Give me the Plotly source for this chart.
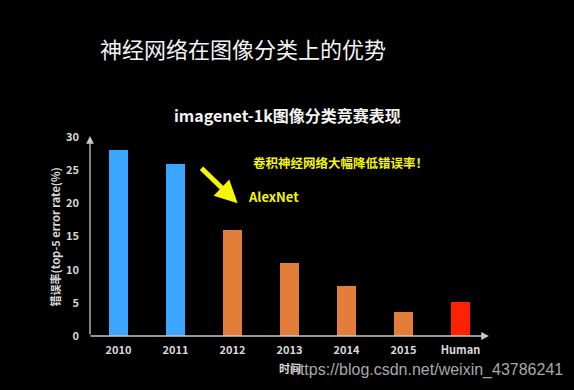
import plotly.graph_objects as go

categories = ["2010", "2011", "2012", "2013", "2014", "2015", "Human"]
error_rates = [28, 26, 16, 11, 7.5, 3.6, 5.1]
bar_colors = ["#3AA6FF", "#3AA6FF", "#E27D3A", "#E27D3A", "#E27D3A", "#E27D3A", "#FF2200"]
y_ticks = [0, 5, 10, 15, 20, 25, 30]

CJK = "Noto Sans CJK SC"
tick_font = dict(family=CJK, size=11, color="#D8D8D8", weight="bold")

fig = go.Figure()
fig.add_trace(go.Bar(
    x=list(range(len(categories))), y=error_rates,
    marker=dict(color=bar_colors, line=dict(width=0)),
    width=0.32,
))

axis_col = "#C8C8C8"
fig.update_layout(
    width=574, height=390,
    paper_bgcolor="black", plot_bgcolor="black",
    margin=dict(l=90, r=85, t=137, b=54),
    showlegend=False,
    bargap=0,
    xaxis=dict(
        tickmode="array", tickvals=list(range(len(categories))), ticktext=categories,
        range=[-0.5, 6.5], showgrid=False, zeroline=False, showline=False,
        tickfont=tick_font, ticks="", ticklabelstandoff=6,
    ),
    yaxis=dict(
        range=[0, 30], tickvals=y_ticks, showgrid=False, zeroline=False, showline=False,
        tickfont=tick_font, ticks="", ticklabelstandoff=10,
    ),
)

# axis lines with arrows
fig.add_annotation(xref="paper", yref="paper", x=0, y=1.005, ax=0, ay=200,
                   text="", showarrow=True, arrowhead=2, arrowsize=1.2,
                   arrowwidth=1.3, arrowcolor=axis_col, standoff=0)
fig.add_annotation(xref="paper", yref="paper", x=1.0, y=0, ax=-400, ay=0,
                   text="", showarrow=True, arrowhead=2, arrowsize=1.2,
                   arrowwidth=1.3, arrowcolor=axis_col, standoff=0)

# titles
fig.add_annotation(xref="paper", yref="paper", x=0.384, y=1.447,
                   xanchor="center", yanchor="middle",
                   text="神经网络在图像分类上的优势", showarrow=False,
                   font=dict(family=CJK, size=22, color="#F2F2F2"))
fig.add_annotation(xref="paper", yref="paper", x=0.495, y=1.11,
                   xanchor="center", yanchor="middle",
                   text="imagenet-1k图像分类竞赛表现", showarrow=False,
                   font=dict(family=CJK, size=16, color="#F2F2F2", weight="bold"))

# y axis title
fig.add_annotation(xref="paper", yref="paper", x=-0.088, y=0.5,
                   xanchor="center", yanchor="middle",
                   text="错误率(top-5 error rate(%)", showarrow=False, textangle=-90,
                   font=dict(family=CJK, size=11, color="#D8D8D8", weight="bold"))
# x axis title
fig.add_annotation(xref="paper", yref="paper", x=0.5, y=-0.16,
                   xanchor="center", yanchor="middle",
                   text="时间", showarrow=False,
                   font=dict(family=CJK, size=11, color="#D8D8D8", weight="bold"))

# yellow annotations
yellow = "#F5F50A"
fig.add_annotation(xref="x", yref="y", x=2.09, y=20.0, axref="x", ayref="y",
                   ax=1.43, ay=25.5, text="", showarrow=True, arrowhead=2,
                   arrowsize=0.9, arrowwidth=5, arrowcolor=yellow, standoff=0)
fig.add_annotation(xref="x", yref="y", x=2.72, y=21.0, text="AlexNet", showarrow=False,
                   font=dict(family=CJK, size=13, color=yellow, weight="bold"))
fig.add_annotation(xref="x", yref="y", x=3.9, y=26.1, text="卷积神经网络大幅降低错误率！",
                   showarrow=False,
                   font=dict(family=CJK, size=12.5, color=yellow, weight="bold"))

# watermark
fig.add_annotation(xref="paper", yref="paper", x=1.19, y=-0.172,
                   xanchor="right", yanchor="middle",
                   text="https://blog.csdn.net/weixin_43786241", showarrow=False,
                   font=dict(family="Liberation Sans", size=16, color="#A8A8A8"))

fig.write_html("out.html", config={"displayModeBar": False},
               post_script="document.body.style.margin='0';document.body.style.background='black';")
